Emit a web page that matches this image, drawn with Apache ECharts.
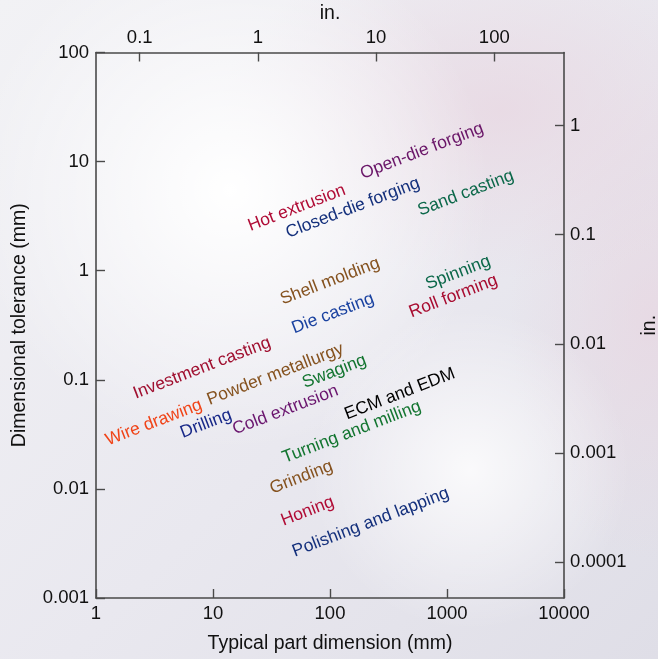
<!DOCTYPE html>
<html>
<head>
<meta charset="utf-8">
<script src="https://cdn.jsdelivr.net/npm/echarts@6/dist/echarts.min.js"></script>
<style>
html,body{margin:0;padding:0;}
body{
  width:658px;height:659px;overflow:hidden;
  background:
    radial-gradient(circle at 230px 190px, rgba(255,255,255,1) 0px, rgba(255,255,255,0) 260px),
    radial-gradient(circle at 470px 470px, rgba(255,255,255,0.8) 0px, rgba(255,255,255,0) 160px),
    radial-gradient(ellipse 280px 170px at 500px 110px, rgba(232,214,225,0.75) 0px, rgba(232,214,225,0) 100%),
    radial-gradient(ellipse 140px 240px at 650px 320px, rgba(232,214,225,0.7) 0px, rgba(232,214,225,0) 100%),
    linear-gradient(135deg, #f2f2f5 0%, #e9e8ef 55%, #dfdee7 100%);
}
#chart{width:658px;height:659px;}
</style>
</head>
<body>
<div id="chart"></div>
<script>
// ---- data ----
const processNames = [
  "Open-die forging","Hot extrusion","Closed-die forging","Sand casting",
  "Shell molding","Spinning","Roll forming","Die casting",
  "Investment casting","Powder metallurgy","Swaging",
  "Wire drawing","Drilling","Cold extrusion","ECM and EDM",
  "Turning and milling","Grinding","Honing","Polishing and lapping"
];
const partDimensionMM = [
  611, 52, 157, 1449,
  100, 1242, 1134, 106,
  8.06, 34.1, 109,
  3.12, 8.73, 41.6, 395,
  153, 56.9, 64.3, 223
];
const toleranceMM = [
  12.5, 3.76, 3.76, 5.15,
  0.80, 0.957, 0.582, 0.405,
  0.128, 0.112, 0.119,
  0.0405, 0.0395, 0.0528, 0.0741,
  0.0331, 0.01277, 0.00624, 0.00493
];
const labelColors = [
  "#6a1668","#b00c36","#14307c","#0c684a",
  "#85521f","#0c684a","#a80c30","#1a42a0",
  "#a01030","#85521f","#137530",
  "#f04418","#182888","#6a156e","#000000",
  "#137530","#85521f","#b00c36","#14307c"
];
const xTickLabels = ["1","10","100","1000","10000"];
const yTickLabels = ["0.001","0.01","0.1","1","10","100"];
const topTickInches = [0.1, 1, 10, 100];
const topTickLabels = ["0.1","1","10","100"];
const rightTickInches = [1, 0.1, 0.01, 0.001, 0.0001];
const rightTickLabels = ["1","0.1","0.01","0.001","0.0001"];

// ---- chart ----
const FONT = "'Liberation Sans', Arial, Helvetica, sans-serif";
const axisColor = "#4a4a4a";
const tickFont = 18.5;
const lblMap = (vals, labels) => { const m = {}; vals.forEach((v,i)=>{ m[Math.round(Math.log10(v)*1000)] = labels[i]; }); return m; };
const topMap = lblMap(topTickInches, topTickLabels);
const rightMap = lblMap(rightTickInches, rightTickLabels);
const xMap = lblMap([1,10,100,1000,10000], xTickLabels);
const yMap = lblMap([0.001,0.01,0.1,1,10,100], yTickLabels);

const commonLine = { show: true, onZero: false, lineStyle: { color: axisColor, width: 1.6 } };
const commonTick = { show: true, inside: true, length: 9, lineStyle: { color: axisColor, width: 1.4 } };

const chart = echarts.init(document.getElementById('chart'), null, { renderer: 'canvas' });
chart.setOption({
  backgroundColor: 'transparent',
  animation: false,
  textStyle: { fontFamily: FONT },
  grid: { left: 96, right: 94, top: 52.5, bottom: 61, containLabel: false, outerBoundsMode: 'none' },
  xAxis: [
    {
      type: 'log', logBase: 10, min: 1, max: 10000, position: 'bottom',
      name: 'Typical part dimension (mm)', nameLocation: 'middle', nameGap: 36,
      nameTextStyle: { fontSize: 19.5, color: '#111', fontFamily: FONT },
      axisLine: commonLine, axisTick: commonTick, minorTick: { show: false },
      splitLine: { show: false },
      axisLabel: { fontSize: tickFont, color: '#111', margin: 6, fontFamily: FONT,
        formatter: v => xMap[Math.round(Math.log10(v)*1000)] || '' }
    },
    {
      type: 'value', min: -1.37, max: 2.59, position: 'top',
      name: 'in.', nameLocation: 'middle', nameGap: 24,
      nameTextStyle: { fontSize: 19.5, color: '#111', fontFamily: FONT },
      axisLine: commonLine,
      axisTick: Object.assign({}, commonTick, { customValues: topTickInches.map(v => Math.log10(v)) }),
      splitLine: { show: false },
      axisLabel: { fontSize: tickFont, color: '#111', margin: 5, fontFamily: FONT,
        customValues: topTickInches.map(v => Math.log10(v)),
        formatter: v => topMap[Math.round(v*1000)] || '' }
    }
  ],
  yAxis: [
    {
      type: 'log', logBase: 10, min: 0.001, max: 100, position: 'left',
      name: 'Dimensional tolerance (mm)', nameLocation: 'middle', nameGap: 66,
      nameTextStyle: { fontSize: 19.5, color: '#111', fontFamily: FONT },
      axisLine: commonLine, axisTick: commonTick, minorTick: { show: false },
      splitLine: { show: false },
      axisLabel: { fontSize: tickFont, color: '#111', margin: 7, fontFamily: FONT,
        formatter: v => yMap[Math.round(Math.log10(v)*1000)] || '' }
    },
    {
      type: 'value', min: -4.33, max: 0.67, position: 'right',
      name: 'in.', nameLocation: 'middle', nameGap: 76, nameRotate: 90,
      nameTextStyle: { fontSize: 19.5, color: '#111', fontFamily: FONT },
      axisLine: commonLine,
      axisTick: Object.assign({}, commonTick, { customValues: rightTickInches.map(v => Math.log10(v)) }),
      splitLine: { show: false },
      axisLabel: { fontSize: tickFont, color: '#111', margin: 6, fontFamily: FONT,
        customValues: rightTickInches.map(v => Math.log10(v)),
        formatter: v => rightMap[Math.round(v*1000)] || '' }
    }
  ],
  series: [
    {
      type: 'scatter', xAxisIndex: 0, yAxisIndex: 0, silent: true,
      symbolSize: 1, itemStyle: { color: 'rgba(0,0,0,0)' },
      label: { show: true, position: 'inside', rotate: 21, fontSize: 17.5,
        fontFamily: FONT, align: 'center', verticalAlign: 'middle',
        textBorderWidth: 0, textBorderColor: 'transparent', opacity: 1,
        formatter: p => p.name },
      labelLayout: { hideOverlap: false },
      emphasis: { disabled: true },
      data: processNames.map((n, i) => ({
        name: n, value: [partDimensionMM[i], toleranceMM[i]],
        label: { color: labelColors[i] }
      }))
    }
  ]
});
</script>
</body>
</html>
